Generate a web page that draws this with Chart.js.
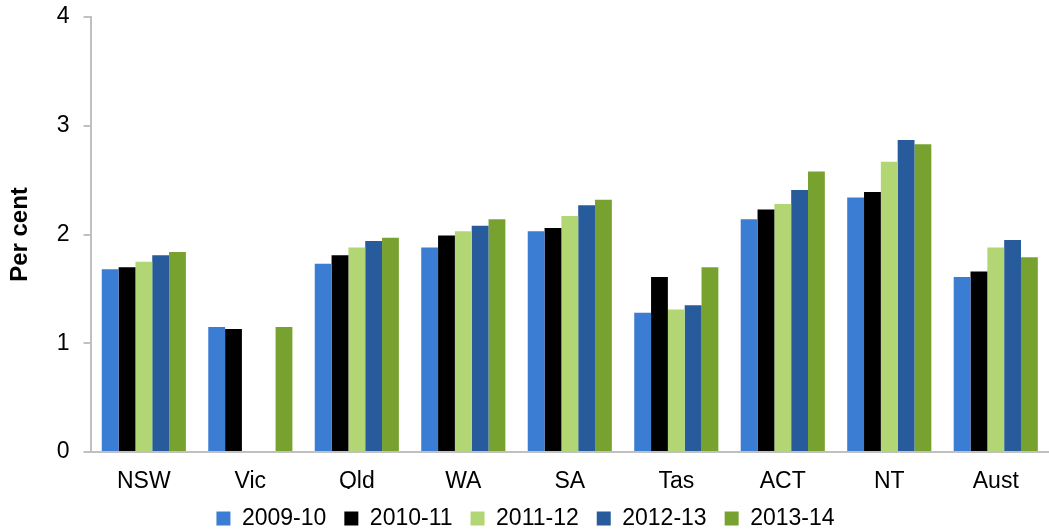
<!DOCTYPE html>
<html>
<head>
<meta charset="utf-8">
<script src="https://cdn.jsdelivr.net/npm/chart.js@4.4.0/dist/chart.umd.min.js"></script>
<style>
    body { margin: 0; background: #fff; }
    #wrap { width: 1049px; height: 530px; position: relative; }
</style>
</head>
<body>
<div id="wrap"><canvas id="canvas"></canvas></div>
<script>
var states = ['NSW', 'Vic', 'Qld', 'WA', 'SA', 'Tas', 'ACT', 'NT', 'Aust'];
var years = ['2009-10', '2010-11', '2011-12', '2012-13', '2013-14'];

var y2009 = [1.68, 1.15, 1.73, 1.88, 2.03, 1.28, 2.14, 2.34, 1.61];
var y2010 = [1.70, 1.13, 1.81, 1.99, 2.06, 1.61, 2.23, 2.39, 1.66];
var y2011 = [1.75, null, 1.88, 2.03, 2.17, 1.31, 2.28, 2.67, 1.88];
var y2012 = [1.81, null, 1.94, 2.08, 2.27, 1.35, 2.41, 2.87, 1.95];
var y2013 = [1.84, 1.15, 1.97, 2.14, 2.32, 1.70, 2.58, 2.83, 1.79];

var yTicks = [0, 1, 2, 3, 4];

var seriesData = [y2009, y2010, y2011, y2012, y2013];
var colors = ['#3A7DD3', '#000000', '#B3D675', '#275B9C', '#78A22F'];

var fontFamily = 'Liberation Sans, Arial, sans-serif';

var datasets = [];
for (var i = 0; i < years.length; i++) {
    datasets.push({
        label: years[i],
        data: seriesData[i],
        backgroundColor: colors[i],
        borderWidth: 0,
        categoryPercentage: 0.79,
        barPercentage: 1.0
    });
}

const CHART = document.getElementById('canvas');
var barChart = new Chart(CHART, {
    type: 'bar',
    data: { labels: states, datasets: datasets },
    options: {
        responsive: true,
        maintainAspectRatio: false,
        animation: false,
        layout: { padding: { top: 0, right: 0, left: 2, bottom: -10 } },
        plugins: {
            tooltip: { enabled: false },
            legend: {
                position: 'bottom',
                labels: {
                    boxWidth: 14,
                    boxHeight: 14,
                    padding: 18,
                    color: '#000',
                    font: { family: fontFamily, size: 23 }
                }
            }
        },
        scales: {
            x: {
                grid: { display: false, drawTicks: false },
                border: { color: '#C0C0C0', width: 2 },
                ticks: {
                    color: '#000',
                    padding: 16,
                    font: { family: fontFamily, size: 23 }
                },
                afterFit: function (scale) {
                    // keep the legend tucked up under the category labels
                    scale.height = 37;
                }
            },
            y: {
                min: 0,
                max: 4,
                afterBuildTicks: function (axis) {
                    axis.ticks = yTicks.map(function (v) { return { value: v }; });
                },
                afterFit: function (scale) {
                    scale.paddingTop = 17;
                },
                grid: { drawOnChartArea: false, color: '#C0C0C0', tickLength: 7, lineWidth: 2 },
                border: { color: '#C0C0C0', width: 2 },
                ticks: {
                    color: '#000',
                    padding: 14,
                    font: { family: fontFamily, size: 23 }
                },
                title: {
                    display: true,
                    text: 'Per cent',
                    color: '#000',
                    padding: { top: 4, bottom: 8 },
                    font: { family: fontFamily, size: 24, weight: 'bold' }
                }
            }
        }
    }
});
</script>
</body>
</html>
